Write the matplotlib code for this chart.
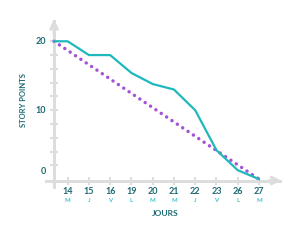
import matplotlib.pyplot as plt

# burndown data
days = ['14', '15', '16', '19', '20', '21', '22', '23', '26', '27']
weekdays = ['M', 'J', 'V', 'L', 'M', 'M', 'J', 'V', 'L', 'M']
remaining = [20, 18, 18, 15.4, 13.8, 13.0, 10.0, 4.2, 1.3, 0]
ideal_start, ideal_end = 20, 0
y_labels = [0, 10, 20]

# colours
TEAL = '#1fb8bc'
DARK = '#1e6a72'
LIGHT = '#3fc3c8'
PURPLE = '#a452d6'
GREY = '#dddddd'

plt.rcParams['font.family'] = ['Lato', 'DejaVu Sans']

fig = plt.figure(figsize=(3, 2.4), dpi=100)
ax = fig.add_axes([0, 0, 1, 1])
ax.set_xlim(-3.184, 10.93)
ax.set_ylim(-8.83, 25.99)

y_axis_x = -0.64   # where the vertical axis sits (in day index units)
x_axis_y = -0.2

# axes as spines
for side in ['top', 'right']:
    ax.spines[side].set_visible(False)
ax.spines['left'].set_position(('data', y_axis_x))
ax.spines['bottom'].set_position(('data', x_axis_y))
ax.spines['left'].set_bounds(-1.1, 23)
ax.spines['bottom'].set_bounds(-1.04, 10.0)
for side in ['left', 'bottom']:
    ax.spines[side].set_color(GREY)
    ax.spines[side].set_linewidth(2.2)
    ax.spines[side].set_zorder(1)

ax.set_xticks(range(len(days)))
ax.set_xticklabels([])
ax.set_yticks(range(2, 22, 2))
ax.set_yticklabels([])
ax.tick_params(axis='both', direction='inout', length=6, width=1.5, color=GREY)

# arrow heads
ax.annotate('', xy=(y_axis_x, 23.2), xytext=(y_axis_x, 21),
            arrowprops=dict(arrowstyle='->', color=GREY, lw=2.2,
                            mutation_scale=12, shrinkA=0, shrinkB=0))
ax.annotate('', xy=(10.05, x_axis_y), xytext=(9.5, x_axis_y),
            arrowprops=dict(arrowstyle='->', color=GREY, lw=2.2,
                            mutation_scale=12, shrinkA=0, shrinkB=0))

# ideal line (dotted) and actual burndown
ax.plot([y_axis_x, len(days) - 1], [ideal_start, ideal_end], color=PURPLE,
        lw=2.5, linestyle=(0, (0.01, 1.85)), dash_capstyle='round', zorder=3)
ax.plot([y_axis_x] + list(range(len(days))), [remaining[0]] + remaining,
        color=TEAL, lw=1.6, solid_joinstyle='round', zorder=4)

# tick labels
for v in y_labels:
    ax.text(-1.02, v + (1.05 if v == 0 else 0), str(v), ha='right', va='center',
            fontsize=6.5, fontweight='bold', color=DARK)
for i, (d, w) in enumerate(zip(days, weekdays)):
    ax.text(i, -1.75, d, ha='center', va='center', fontsize=6.5,
            fontweight='bold', color=DARK)
    ax.text(i, -3.05, w, ha='center', va='center', fontsize=4.3,
            fontweight='bold', color=LIGHT)

ax.text(4.58, -5.0, 'JOURS', ha='center', va='center', fontsize=6,
        fontweight='bold', color=DARK)
ax.text(-2.1, 11.5, 'STORY POINTS', ha='center', va='center', rotation=90,
        fontsize=5.5, fontweight='bold', color=DARK)

fig.savefig('out.png', dpi=100)
